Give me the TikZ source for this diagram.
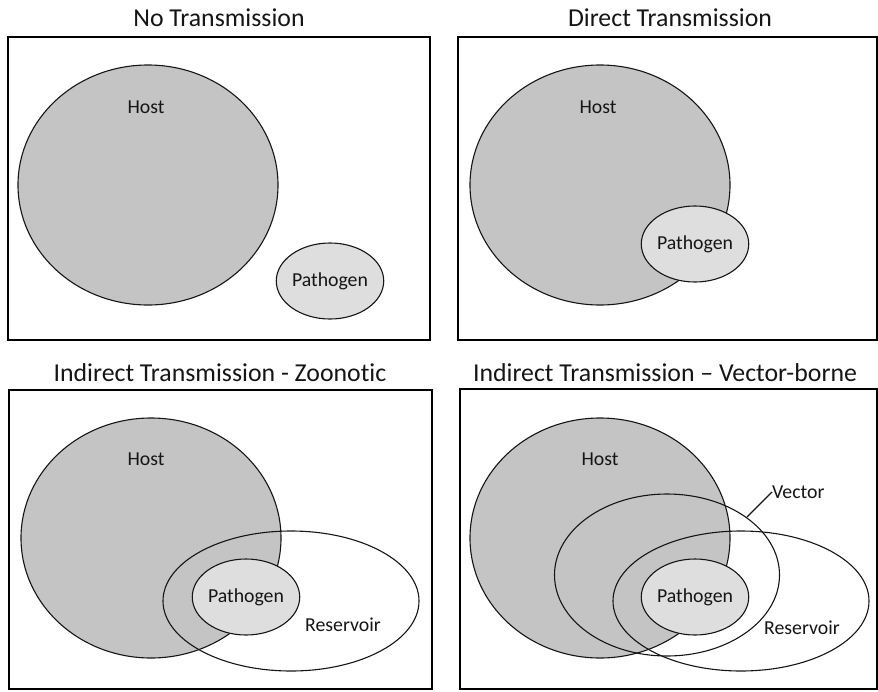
\documentclass[tikz,border=0pt]{standalone}
\usepackage{fontspec}
\setmainfont[Ligatures={NoCommon}]{Carlito}
\usetikzlibrary{shapes.geometric}
\definecolor{hostgray}{HTML}{C4C4C4}
\definecolor{pathgray}{HTML}{DEDEDE}
\definecolor{inkc}{HTML}{151515}
\tikzset{
  panelbox/.style={draw=black, line width=2.6pt},
  paneltitle/.style={font=\fontsize{25.8}{28}\selectfont, text=inkc, inner sep=0pt},
  setshape/.style={shape=ellipse, draw=inkc, line width=1.1pt, inner sep=0pt},
  hostset/.style={setshape, fill=hostgray, minimum width=260pt, minimum height=240pt},
  pathset/.style={setshape, fill=pathgray, minimum width=106pt, minimum height=76pt, font=\fontsize{19.8}{22}\selectfont, text=inkc},
  openset/.style={setshape},
  lbl/.style={font=\fontsize{19.8}{22}\selectfont, text=inkc, inner sep=0pt},
  leader/.style={draw=inkc, line width=1.1pt}
}
\begin{document}
\begin{tikzpicture}[x=1pt, y=-1pt]
\useasboundingbox (0,0) rectangle (878,691);
% ---------- Panel 1 ----------
\node[paneltitle] (t1) at (219,18) {No Transmission};
\draw[panelbox] (8,37) rectangle (430,340);
\node[hostset] (h1) at (148,185) {};
\node[lbl] (hl1) at (146,107) {Host};
\node[pathset] (p1) at (330,281) {Pathogen};
% ---------- Panel 2 ----------
\node[paneltitle] (t2) at (670,18) {Direct Transmission};
\draw[panelbox] (458,37) rectangle (877,340);
\node[hostset] (h2) at (600,185) {};
\node[lbl] (hl2) at (598,107) {Host};
\node[pathset] (p2) at (695,244) {Pathogen};
% ---------- Panel 3 ----------
\node[paneltitle] (t3) at (220,373) {Indirect Transmission - Zoonotic};
\draw[panelbox] (9,390) rectangle (432,689);
\node[hostset] (h3) at (151,538) {};
\node[lbl] (hl3) at (146,459) {Host};
\node[openset, minimum width=256pt, minimum height=140pt] (r3) at (291,601) {};
\node[lbl] (rl3) at (343,625) {Reservoir};
\node[pathset] (p3) at (246,597) {Pathogen};
% ---------- Panel 4 ----------
\node[paneltitle] (t4) at (665,373) {Indirect Transmission – Vector-borne};
\draw[panelbox] (460,389) rectangle (877,689);
\node[hostset] (h4) at (600,538) {};
\node[lbl] (hl4) at (600,459) {Host};
\node[openset, minimum width=225pt, minimum height=162pt] (v4) at (667,575) {};
\node[openset, minimum width=256pt, minimum height=140pt] (r4) at (741,601) {};
\node[lbl] (rl4) at (802,628) {Reservoir};
\node[pathset] (p4) at (695,597) {Pathogen};
\node[lbl, anchor=west] (vl4) at (772,492) {Vector};
\coordinate (vpt) at (747,517);
\draw[leader] (vpt) -- (vl4.west);
\end{tikzpicture}
\end{document}
